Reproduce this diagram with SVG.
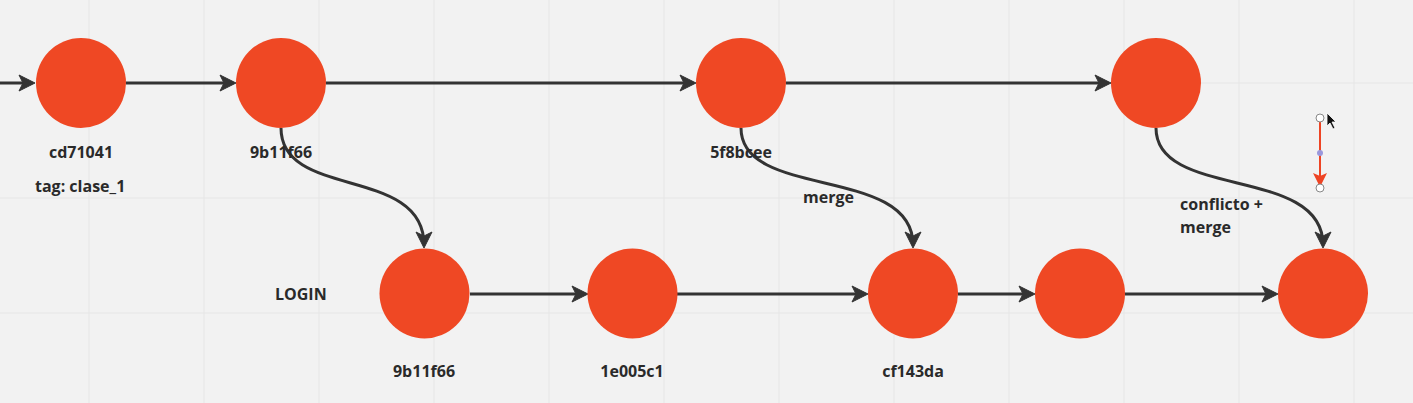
<svg xmlns="http://www.w3.org/2000/svg" width="1413" height="403" viewBox="0 0 1413 403">
<defs>
<style>
.bg{fill:#f2f2f2}
.grid{stroke:#e6e6e6;stroke-width:1;fill:none}
.node{fill:#ef4824}
.edge{stroke:#333333;stroke-width:3;fill:none;marker-end:url(#ah)}
.lbl{font-family:"Open Sans","Liberation Sans",sans-serif;font-weight:700;font-size:16px;fill:#2a2a2a}
.mid{text-anchor:middle}
</style>
<marker id="ah" markerUnits="userSpaceOnUse" markerWidth="18" markerHeight="20" viewBox="0 0 18 20" refX="14" refY="10" orient="auto">
<path d="M1,2 L17,10 L1,18 L5,10 Z" fill="#333333" stroke="#333333" stroke-width="1" stroke-linejoin="round"/>
</marker>
<marker id="rah" markerUnits="userSpaceOnUse" markerWidth="18" markerHeight="16" viewBox="0 0 18 16" refX="14" refY="8" orient="auto">
<path d="M1,1 L15,8 L1,15 L4,8 Z" fill="#ee4424"/>
</marker>
</defs>
<rect class="bg" x="0" y="0" width="1413" height="403"/>
<g id="grid" class="grid">
<path d="M89,0V403M204,0V403M319,0V403M434,0V403M549,0V403M664,0V403M779,0V403M894,0V403M1009,0V403M1124,0V403M1239,0V403M1354,0V403"/>
<path d="M0,83H1413M0,198H1413M0,313H1413"/>
</g>
<g id="connectors">
<path class="edge" d="M0,83 H32"/>
<path class="edge" d="M126,83 H233"/>
<path class="edge" d="M326,83 H693"/>
<path class="edge" d="M786,83 H1108"/>
<path class="edge" d="M470,294 H585"/>
<path class="edge" d="M677,294 H865"/>
<path class="edge" d="M958,294 H1032"/>
<path class="edge" d="M1125,294 H1275"/>
<path class="edge" d="M281,128 C281,200 424,165 424,245"/>
<path class="edge" d="M741,128 C741,200 913,165 913,245"/>
<path class="edge" d="M1156,128 C1156,200 1323,165 1323,245"/>
</g>
<g id="n-cd71041">
<circle class="node" cx="81" cy="83" r="45"/>
<text class="lbl mid" x="81" y="158">cd71041</text>
<text class="lbl" x="35" y="192">tag: clase_1</text>
</g>
<g id="n-9b11f66-top">
<circle class="node" cx="281" cy="83" r="45"/>
<text class="lbl mid" x="281" y="158">9b11f66</text>
</g>
<g id="n-5f8bcee">
<circle class="node" cx="741" cy="83" r="45"/>
<text class="lbl mid" x="741" y="158">5f8bcee</text>
</g>
<g id="n-top4">
<circle class="node" cx="1156" cy="83" r="45"/>
</g>
<g id="n-9b11f66-login">
<circle class="node" cx="424.5" cy="293.5" r="45"/>
<text class="lbl" x="275" y="300">LOGIN</text>
<text class="lbl mid" x="424" y="377">9b11f66</text>
</g>
<g id="n-1e005c1">
<circle class="node" cx="632.5" cy="293.5" r="45"/>
<text class="lbl mid" x="632" y="377">1e005c1</text>
</g>
<g id="n-cf143da">
<circle class="node" cx="913" cy="293.5" r="45"/>
<text class="lbl mid" x="913" y="377">cf143da</text>
</g>
<g id="n-b4">
<circle class="node" cx="1080" cy="293.5" r="45"/>
</g>
<g id="n-b5">
<circle class="node" cx="1323" cy="293.5" r="45"/>
</g>
<g id="edge-labels">
<text class="lbl" x="803" y="203">merge</text>
<text class="lbl" x="1180" y="210">conflicto +</text>
<text class="lbl" x="1180" y="233">merge</text>
</g>
<g id="selected-arrow">
<path d="M1320,118 V186" stroke="#ee4424" stroke-width="2" fill="none" marker-end="url(#rah)"/>
<circle cx="1320" cy="153" r="3" fill="#9a98dc"/>
<circle cx="1320" cy="118" r="4" fill="#ffffff" stroke="#888888" stroke-width="1"/>
<circle cx="1320" cy="188" r="4" fill="#ffffff" stroke="#888888" stroke-width="1"/>
<path d="M1327,113 L1327,126 L1330,123 L1333,129 L1335,128 L1332,122 L1336,122 Z" fill="#111111" stroke="#ffffff" stroke-width="0.8"/>
</g>
</svg>
